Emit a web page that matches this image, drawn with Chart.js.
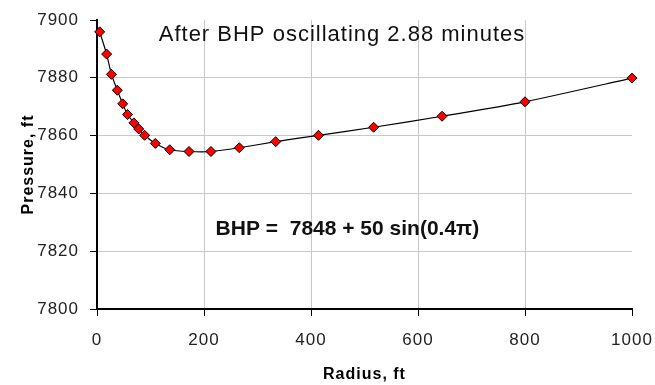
<!DOCTYPE html>
<html>
<head>
<meta charset="utf-8">
<script src="https://cdn.jsdelivr.net/npm/chart.js@4"></script>
<style>
  html, body { margin: 0; padding: 0; background: #fff; }
  #wrap { width: 655px; height: 385px; }
</style>
</head>
<body>
<div id="wrap"><canvas id="myChart"></canvas></div>
<script>
// radius (ft) and pressure
const radius = [5, 18, 27, 38, 48, 57, 69, 78, 89, 109, 136, 172, 213, 266, 334, 414, 517, 645, 800, 1000];
const pressure = [7895.9, 7888.2, 7881.2, 7875.7, 7871.0, 7867.3, 7864.4, 7862.3, 7860.1, 7857.3,
                  7855.1, 7854.5, 7854.5, 7855.8, 7857.9, 7860.1, 7862.9, 7866.7, 7871.7, 7879.9];
const xTicks = [0, 200, 400, 600, 800, 1000];
const yTicks = [7800, 7820, 7840, 7860, 7880, 7900];

const FONT = '"Liberation Sans", Arial, sans-serif';

// text boxes inside the plot
const notes = [
    { text: 'After BHP oscillating 2.88 minutes', x: 458, y: 7894.8, weight: 'normal', size: 22, spacing: '1px' },
    { text: 'BHP =  7848 + 50 sin(0.4\u03c0)', x: 468, y: 7827.6, weight: 'bold', size: 21, spacing: '0px' }
];

const notesPlugin = {
    id: 'notes',
    beforeDraw(chart) {
        // the original text is a bit wider than Liberation Sans
        chart.ctx.letterSpacing = '1px';
    },
    afterDraw(chart) {
        const c = chart.ctx;
        const xs = chart.scales.x, ys = chart.scales.y;
        c.save();
        c.fillStyle = '#111';
        c.textAlign = 'center';
        c.textBaseline = 'middle';
        notes.forEach(n => {
            c.letterSpacing = n.spacing;
            c.font = n.weight + ' ' + n.size + 'px ' + FONT;
            c.fillText(n.text, xs.getPixelForValue(n.x), ys.getPixelForValue(n.y));
        });
        c.restore();
    }
};

// hide grid lines at the edges but keep the tick marks
function gridColor(ctx) {
    const last = ctx.chart.scales[ctx.scale.id].ticks.length - 1;
    return (ctx.index === 0 || ctx.index === last) ? 'rgba(0,0,0,0)' : '#c8c8c8';
}

const ctx = document.getElementById('myChart');
new Chart(ctx, {
    type: 'scatter',
    data: {
        datasets: [{
            label: 'Pressure',
            data: radius.map((r, i) => ({ x: r, y: pressure[i] })),
            showLine: true,
            clip: false,
            borderColor: '#000',
            borderWidth: 1.2,
            tension: 0.2,
            pointStyle: 'rectRot',
            pointRadius: 5,
            pointBackgroundColor: '#ff0000',
            pointBorderColor: '#000',
            pointBorderWidth: 1
        }]
    },
    options: {
        responsive: true,
        maintainAspectRatio: false,
        animation: false,
        layout: { padding: { top: 20, right: 23, left: 0, bottom: 0 } },
        plugins: { legend: { display: false }, tooltip: { enabled: false } },
        scales: {
            x: {
                type: 'linear',
                min: 0, max: 1000,
                afterBuildTicks: s => { s.ticks = xTicks.map(v => ({ value: v })); },
                afterFit: s => { s.height = 76; s.paddingLeft = 0; s.paddingRight = 0; },
                grid: { color: gridColor, tickColor: '#000', tickLength: 7, lineWidth: 1 },
                border: { color: '#000', width: 2 },
                ticks: { color: '#222', font: { family: FONT, size: 17 }, padding: 14, maxRotation: 0,
                         callback: v => String(v) },
                title: { display: true, text: 'Radius, ft', color: '#000',
                         font: { family: FONT, size: 16, weight: 'bold' }, padding: { top: 0, bottom: 1 } }
            },
            y: {
                min: 7800, max: 7900,
                afterBuildTicks: s => { s.ticks = yTicks.map(v => ({ value: v })); },
                afterFit: s => { s.width = 97; s.paddingTop = 0; s.paddingBottom = 0; },
                grid: { color: gridColor, tickColor: '#000', tickLength: 7, lineWidth: 1 },
                border: { color: '#000', width: 2 },
                ticks: { color: '#222', font: { family: FONT, size: 17 }, padding: 11,
                         callback: v => String(v) },
                title: { display: true, text: 'Pressure, ft', color: '#000',
                         font: { family: FONT, size: 16, weight: 'bold' }, padding: { top: 19, bottom: 0 } }
            }
        }
    },
    plugins: [notesPlugin]
});
</script>
</body>
</html>
